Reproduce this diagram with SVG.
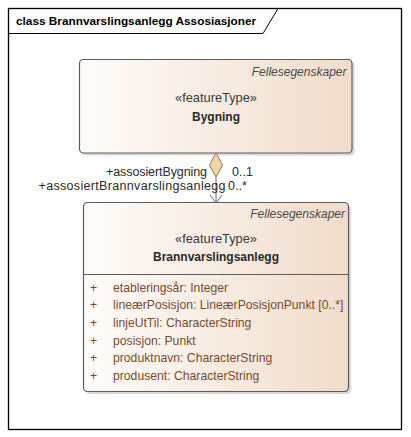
<svg xmlns="http://www.w3.org/2000/svg" width="411" height="437" viewBox="0 0 411 437">
<style>
.t{font-family:"Liberation Sans",Arial,sans-serif;font-size:12.5px;fill:#2a2a2a}
.title{font-family:"Liberation Sans",Arial,sans-serif;font-size:11.8px;font-weight:bold;fill:#000}
.ital{font-family:"Liberation Sans",Arial,sans-serif;font-size:12px;font-style:italic;fill:#4a4a4a}
.st{font-family:"Liberation Sans",Arial,sans-serif;font-size:12.8px;fill:#3a3a3a}
.nm{font-family:"Liberation Sans",Arial,sans-serif;font-size:12px;font-weight:bold;fill:#2a2a2a}
.at{font-family:"Liberation Sans",Arial,sans-serif;font-size:12.2px;fill:#7a4a2c}
.box{fill:url(#g);stroke:#5c5c5c;stroke-width:1.2}
.sh{fill:#c9c9c9;opacity:0.7}
</style>
<defs>
<linearGradient id="g" x1="0" y1="0" x2="1" y2="0">
<stop offset="0" stop-color="#fefcfa"/>
<stop offset="1" stop-color="#f1dccb"/>
</linearGradient>
</defs>
<rect x="0" y="0" width="411" height="437" fill="#fff"/>
<g id="frame">
<rect x="8.5" y="8.5" width="393" height="421" fill="none" stroke="#000" stroke-width="1.3"/>
<path d="M8.5,33.5 H263 L278,8.5" fill="none" stroke="#000" stroke-width="1"/>
<text class="title" x="16" y="24.5">class Brannvarslingsanlegg Assosiasjoner</text>
</g>
<g id="Bygning">
<rect class="sh" x="82" y="62" width="272.5" height="93.5" rx="4"/>
<rect class="box" x="79.5" y="59.5" width="272.5" height="93.5" rx="4"/>
<text class="ital" x="346.5" y="76" text-anchor="end">Fellesegenskaper</text>
<text class="st" x="216" y="101.5" text-anchor="middle">«featureType»</text>
<text class="nm" x="216" y="120.5" text-anchor="middle">Bygning</text>
</g>
<g id="Brannvarslingsanlegg">
<rect class="sh" x="86" y="205" width="265" height="189" rx="4"/>
<rect class="box" x="83.5" y="202.5" width="265" height="189" rx="4"/>
<text class="ital" x="345" y="217.5" text-anchor="end">Fellesegenskaper</text>
<text class="st" x="216" y="242.5" text-anchor="middle">«featureType»</text>
<text class="nm" x="216" y="260.5" text-anchor="middle">Brannvarslingsanlegg</text>
<line x1="83.5" y1="274.5" x2="348.5" y2="274.5" stroke="#5c5c5c" stroke-width="1"/>
<g class="at">
<text x="90" y="291.5">+</text><text x="113" y="291.5">etableringsår: Integer</text>
<text x="90" y="309.2">+</text><text x="113" y="309.2">lineærPosisjon: LineærPosisjonPunkt [0..*]</text>
<text x="90" y="326.9">+</text><text x="113" y="326.9">linjeUtTil: CharacterString</text>
<text x="90" y="344.6">+</text><text x="113" y="344.6">posisjon: Punkt</text>
<text x="90" y="362.3">+</text><text x="113" y="362.3">produktnavn: CharacterString</text>
<text x="90" y="380">+</text><text x="113" y="380">produsent: CharacterString</text>
</g>
</g>
<g id="connectors">
<line x1="216" y1="177" x2="216" y2="203" stroke="#6a6a6a" stroke-width="1"/>
<polyline points="210,195 216,203 222,195" fill="none" stroke="#6a6a6a" stroke-width="1"/>
<polygon points="216,153 222.5,165 216,177 209.5,165" fill="#f0d6a2" stroke="#8c7d5a" stroke-width="1"/>
<text class="t" x="106" y="176" textLength="101" lengthAdjust="spacing">+assosiertBygning</text>
<text class="t" x="232" y="176">0..1</text>
<text class="t" x="38.5" y="190" textLength="187" lengthAdjust="spacing">+assosiertBrannvarslingsanlegg</text>
<text class="t" x="228" y="190">0..*</text>
</g>
</svg>
